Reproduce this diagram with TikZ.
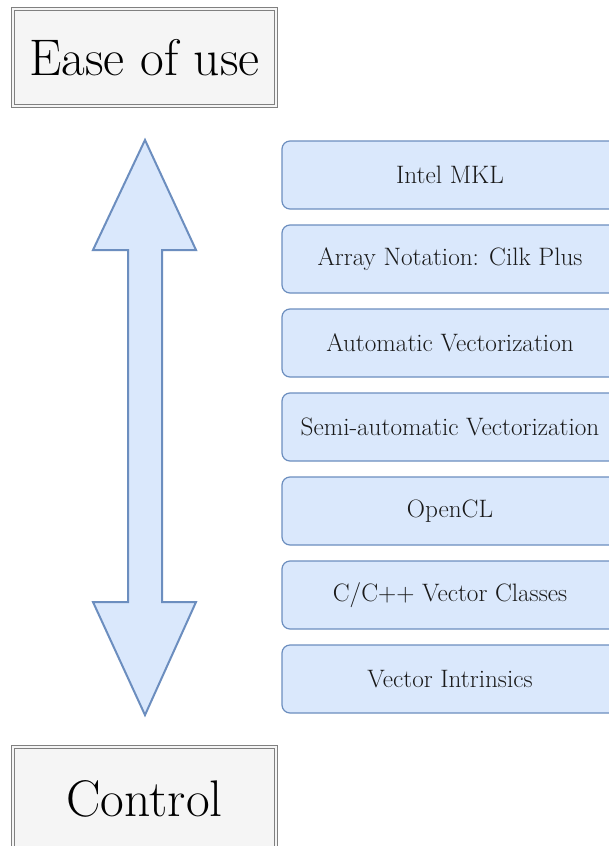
\documentclass[tikz,border=0pt]{standalone}
\definecolor{boxfill}{HTML}{DAE8FC}
\definecolor{boxline}{HTML}{6C8EBF}
\definecolor{titlefill}{HTML}{F5F5F5}
\definecolor{titleline}{HTML}{808080}
\definecolor{txt}{HTML}{1A1A1A}
\tikzset{
  titlebox/.style={draw=titleline, line width=1pt, double=titlefill, double distance=2pt,
    fill=titlefill, minimum width=263pt, minimum height=97pt, inner sep=0pt,
    font=\fontsize{51.5}{60}\selectfont, text=black},
  levelbox/.style={draw=boxline, line width=1.2pt, fill=boxfill, rounded corners=8pt,
    minimum width=336pt, minimum height=68pt, inner sep=0pt,
    font=\fontsize{25.2}{30}\selectfont, text=txt},
  bigarrow/.style={draw=boxline, line width=2pt, fill=boxfill, line join=miter}
}
\begin{document}
\begin{tikzpicture}[x=1pt,y=-1pt]
\clip (0,0) rectangle (609,846);
\useasboundingbox (0,0) rectangle (609,846);
\fill[white] (0,0) rectangle (609,846);
\node[titlebox] (ease) at (144.5,57.5) {Ease of use};
\node[titlebox, minimum height=103pt] (control) at (144.5,798.5) {Control};
\draw[bigarrow] (145,140) -- (93,250) -- (128,250) -- (128,602) -- (93,602) -- (145,715)
  -- (196,602) -- (162,602) -- (162,250) -- (196,250) -- cycle;
\node[levelbox] (b1) at (450,175) {Intel MKL};
\node[levelbox] (b2) at (450,259) {Array Notation: Cilk Plus};
\node[levelbox] (b3) at (450,343) {Automatic Vectorization};
\node[levelbox] (b4) at (450,427) {Semi-automatic Vectorization};
\node[levelbox] (b5) at (450,511) {OpenCL};
\node[levelbox] (b6) at (450,595) {C/C++ Vector Classes};
\node[levelbox] (b7) at (450,679) {Vector Intrinsics};
\end{tikzpicture}
\end{document}
